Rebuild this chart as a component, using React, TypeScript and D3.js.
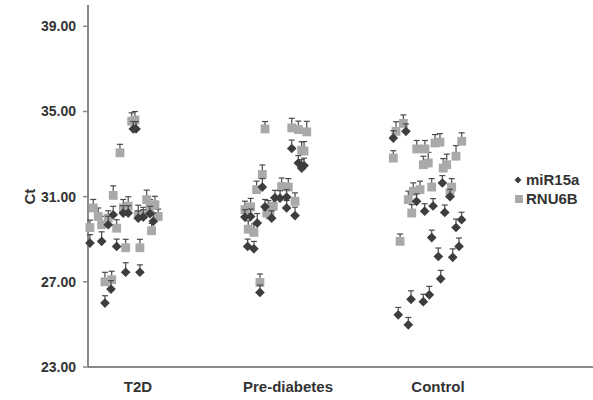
import * as d3 from "d3";

// category positions on the x axis
const categories = ["T2D", "Pre-diabetes", "Control"];
const yTicks = [23, 27, 31, 35, 39];

// [x position, Ct, upper error]
const t2dMir: [number, number, number][] = [
  [0.969, 34.18, 0.3], [0.987, 34.18, 0.3], [0.68, 28.82, 0.35], [0.758, 28.9, 0.4],
  [0.858, 28.66, 0.3], [0.835, 30.15, 0.35], [0.902, 30.23, 0.3], [0.935, 30.23, 0.3],
  [0.802, 29.68, 0.35], [1.002, 29.99, 0.3], [1.035, 30.04, 0.3], [1.102, 29.84, 0.35],
  [1.08, 30.2, 0.3], [0.918, 27.45, 0.4], [1.013, 27.45, 0.3], [0.78, 26.0, 0.3], [0.82, 26.66, 0.35],
];
const t2dRnu: [number, number, number][] = [
  [0.958, 34.54, 0.35], [0.98, 34.6, 0.35], [0.88, 33.06, 0.35], [0.835, 31.06, 0.4],
  [0.702, 30.47, 0.35], [0.735, 30.07, 0.35], [0.68, 29.55, 0.3], [0.758, 29.68, 0.35],
  [0.802, 29.99, 0.3], [0.858, 29.52, 0.35], [0.902, 30.47, 0.35], [0.935, 30.55, 0.4],
  [1.002, 30.15, 0.4], [1.035, 30.15, 0.3], [1.058, 30.86, 0.4], [1.08, 30.47, 0.35],
  [1.113, 30.62, 0.35], [1.135, 30.07, 0.3], [1.091, 29.4, 0.3], [0.918, 28.6, 0.35],
  [1.013, 28.6, 0.35], [0.78, 27.0, 0.4], [0.825, 27.1, 0.35],
];
const preMir: [number, number, number][] = [
  [2.025, 33.26, 0.35], [2.069, 32.58, 0.3], [2.091, 32.34, 0.35], [2.107, 32.46, 0.3],
  [1.829, 31.45, 0.35], [1.713, 30.04, 0.3], [1.751, 30.07, 0.3], [1.795, 29.76, 0.4],
  [1.731, 28.66, 0.3], [1.773, 28.55, 0.3], [1.813, 26.5, 0.3], [1.847, 30.52, 0.3],
  [1.947, 30.93, 0.3], [1.991, 30.98, 0.3], [1.913, 30.95, 0.3], [1.991, 30.47, 0.3],
  [2.047, 30.11, 0.35], [1.891, 29.99, 0.3],
];
const preRnu: [number, number, number][] = [
  [1.847, 34.18, 0.3], [2.025, 34.23, 0.4], [2.069, 34.15, 0.35], [2.125, 34.04, 0.45],
  [2.091, 33.18, 0.35], [2.107, 33.14, 0.4], [1.829, 32.04, 0.4], [1.791, 31.33, 0.35],
  [1.958, 31.48, 0.35], [2.002, 31.45, 0.35], [2.047, 30.78, 0.35], [1.713, 30.39, 0.35],
  [1.751, 30.52, 0.35], [1.869, 30.47, 0.3], [1.902, 30.55, 0.35], [1.88, 30.15, 0.3],
  [1.858, 30.23, 0.3], [1.735, 29.47, 0.35], [1.773, 29.32, 0.35], [1.813, 26.97, 0.35],
];
const ctlMir: [number, number, number][] = [
  [2.702, 33.75, 0.3], [2.786, 34.07, 0.3], [2.857, 30.78, 0.3], [2.911, 30.32, 0.3],
  [2.967, 30.56, 0.3], [3.045, 30.26, 0.3], [3.029, 31.64, 0.3], [3.08, 31.0, 0.3],
  [3.157, 29.92, 0.3], [3.12, 29.55, 0.35], [2.958, 29.08, 0.3], [3.14, 28.66, 0.35],
  [3.002, 28.19, 0.35], [3.098, 28.15, 0.35], [3.018, 27.14, 0.35], [2.942, 26.39, 0.35],
  [2.902, 26.07, 0.3], [2.82, 26.18, 0.35], [2.735, 25.45, 0.3], [2.802, 24.98, 0.3],
];
const ctlRnu: [number, number, number][] = [
  [2.769, 34.44, 0.35], [2.72, 34.07, 0.4], [2.702, 32.81, 0.3], [2.858, 33.24, 0.35],
  [2.913, 33.24, 0.35], [2.98, 33.52, 0.35], [3.013, 33.56, 0.35], [3.158, 33.6, 0.35],
  [2.902, 32.5, 0.35], [2.935, 32.58, 0.45], [3.035, 32.34, 0.4], [3.058, 32.5, 0.45],
  [3.12, 32.9, 0.45], [2.958, 31.45, 0.35], [3.091, 31.45, 0.35], [3.08, 31.17, 0.35],
  [2.88, 31.33, 0.35], [2.835, 31.25, 0.35], [2.802, 30.86, 0.35], [2.825, 30.23, 0.35],
  [2.747, 28.9, 0.3],
];

const mir = [...t2dMir, ...preMir, ...ctlMir];
const rnu = [...t2dRnu, ...preRnu, ...ctlRnu];

const width = 593;
const height = 400;
const font = "'Liberation Sans', Arial, sans-serif";

export default function App() {
  const x = d3.scaleLinear().domain([0.667, 4.033]).range([88, 593]);
  const y = d3.scaleLinear().domain([23, 40]).range([367, 5]);
  const diamond = d3.symbol().type(d3.symbolDiamond2).size(60)();
  const square = d3.symbol().type(d3.symbolSquare).size(78)();

  const errBar = (d: [number, number, number], i: number, off: number) => {
    const cx = x(d[0]);
    const top = y(d[1] + d[2]) - 1;
    return (
      <g key={i} stroke="#4a4a4a" strokeWidth={1.2}>
        <line x1={cx} x2={cx} y1={y(d[1]) - off} y2={top} />
        <line x1={cx - 3} x2={cx + 3} y1={top} y2={top} />
      </g>
    );
  };

  return (
    <svg width={width} height={height} style={{ position: "absolute", left: 0, top: 0 }}>
      <rect width={width} height={height} fill="white" />
      {/* axes */}
      <line x1={88} x2={88} y1={y(40)} y2={y(23)} stroke="#8a8a8a" strokeWidth={2} />
      <line x1={88} x2={593} y1={y(23)} y2={y(23)} stroke="#8a8a8a" strokeWidth={2} />
      {yTicks.map((t) => (
        <g key={t}>
          <line x1={83} x2={88} y1={y(t)} y2={y(t)} stroke="#8a8a8a" strokeWidth={1.5} />
          <text x={76} y={y(t)} dy="0.35em" textAnchor="end" fontFamily={font}
            fontWeight="bold" fontSize={14} fill="#333">{t.toFixed(2)}</text>
        </g>
      ))}
      <text transform={`translate(35,${y(31)}) rotate(-90)`} textAnchor="middle"
        fontFamily={font} fontWeight="bold" fontSize={15} fill="#333">Ct</text>
      {categories.map((c, i) => (
        <text key={c} x={x(i + 1)} y={392} textAnchor="middle" fontFamily={font}
          fontWeight="bold" fontSize={15} fill="#333">{c}</text>
      ))}
      {/* RNU6B */}
      <g>{rnu.map((d, i) => errBar(d, i, 4))}</g>
      <g fill="#a9a9a9">
        {rnu.map((d, i) => (
          <path key={i} d={square || ""} transform={`translate(${x(d[0])},${y(d[1])})`} />
        ))}
      </g>
      {/* miR15a */}
      <g>{mir.map((d, i) => errBar(d, i, 4))}</g>
      <g fill="#3d3d3d">
        {mir.map((d, i) => (
          <path key={i} d={diamond || ""} transform={`translate(${x(d[0])},${y(d[1])})`} />
        ))}
      </g>
      {/* legend */}
      <path d={d3.symbol().type(d3.symbolDiamond2).size(30)() || ""} transform="translate(518,180)" fill="#3d3d3d" />
      <text x={526} y={180} dy="0.35em" fontFamily={font} fontWeight="bold" fontSize={15} fill="#333">miR15a</text>
      <rect x={515} y={195} width={8} height={8} fill="#a9a9a9" />
      <text x={526} y={199} dy="0.35em" fontFamily={font} fontWeight="bold" fontSize={15} fill="#333">RNU6B</text>
    </svg>
  );
}
